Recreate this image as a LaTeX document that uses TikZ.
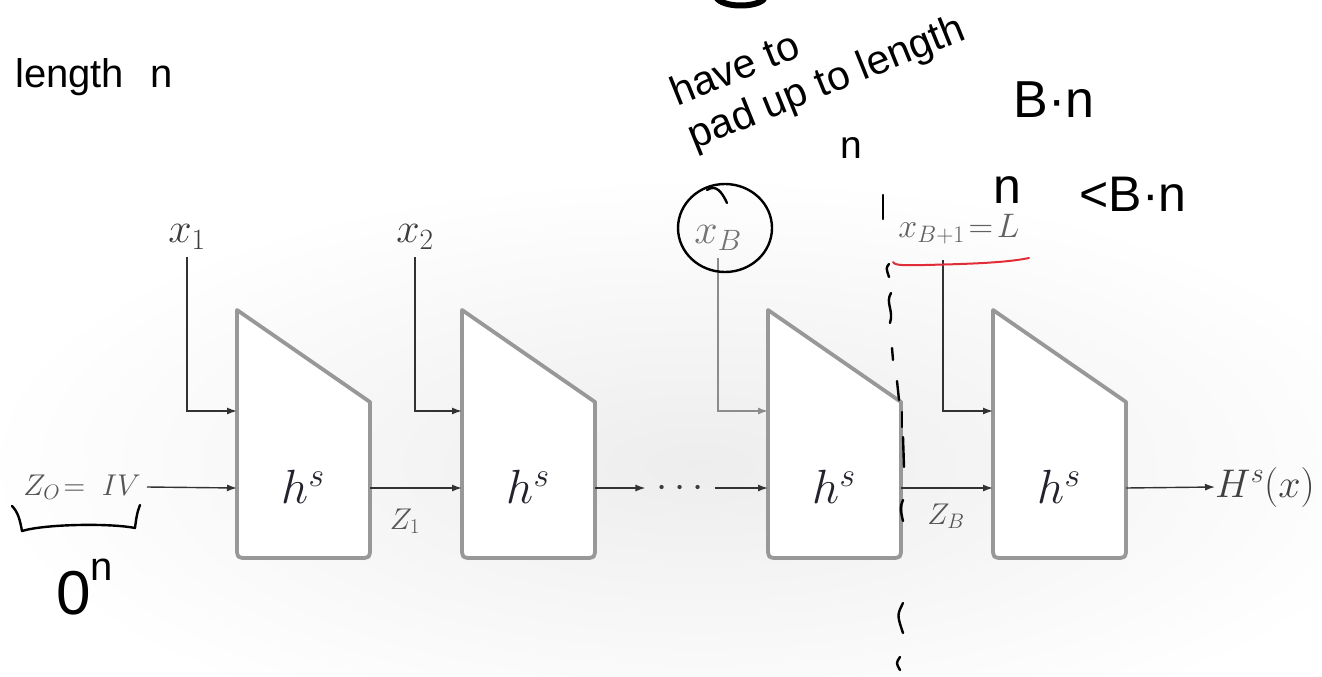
\RequirePackage{fix-cm}
\documentclass[tikz,border=0pt]{standalone}
\usepackage{fontspec}
\newfontfamily\handfont{Liberation Sans}
\usetikzlibrary{arrows.meta,calc}
\definecolor{blkgray}{RGB}{152,152,152}
\definecolor{linegray}{RGB}{50,50,50}
\definecolor{lblgray}{RGB}{60,60,60}
\definecolor{zgray}{RGB}{85,85,85}
\definecolor{hcol}{RGB}{35,35,45}
\definecolor{penred}{RGB}{225,45,55}
\begin{document}
\begin{tikzpicture}[x=1pt,y=-1pt,
  blockline/.style={draw=blkgray,line width=3.8pt,fill=white,line join=round},
  conn/.style={draw=linegray,line width=1.4pt,-{Latex[length=10pt,width=7pt]}},
  xlbl/.style={text=lblgray,inner sep=0pt,font=\fontsize{42}{42}\selectfont},
  zlbl/.style={text=zgray,inner sep=0pt,font=\fontsize{30}{30}\selectfont},
  hlbl/.style={text=hcol,inner sep=0pt,font=\fontsize{48}{48}\selectfont},
  handtxt/.style={inner sep=0pt,text=black,font=\handfont\fontsize{39}{39}\selectfont},
  pen/.style={draw=black,line width=2.4pt,line cap=round,line join=round}
]
\useasboundingbox (0,0) rectangle (1322,677);
\fill[white] (0,0) rectangle (1322,677);
\shade[inner color=black!7,outer color=white] (700,465) ellipse [x radius=720, y radius=290];

% blocks
\foreach \L/\n in {237/1,462/2,768/3,993/4}{
  \pgfmathsetmacro\R{\L+133}
  \draw[blockline] (\L,310) -- (\R,402) -- (\R,547) .. controls (\R,558) .. ({\R-11},558)
     -- ({\L+11},558) .. controls (\L,558) .. (\L,547) -- cycle;
  \node[hlbl] (h\n) at ({\L+66},487) {$h^s$};
  \coordinate (b\n-u) at (\L,411);
  \coordinate (b\n-in) at (\L,488);
  \coordinate (b\n-out) at (\R,488);
}

% top inputs
\node[xlbl] (x1) at (187,237) {$x_1$};
\node[xlbl] (x2) at (415,237) {$x_2$};
\node[xlbl,text=black!55] (xB) at (718,238) {$x_B$};
\node[xlbl,text=black!62,font=\fontsize{34}{34}\selectfont] (xL) at (959,229) {$x_{B+1}\!=\!L$};
\coordinate (xL-s) at (943,260);

\draw[conn] ([yshift=-8pt]x1.south) |- (b1-u);
\draw[conn] ([yshift=-8pt]x2.south) |- (b2-u);
\draw[conn,draw=black!45] ([yshift=-8pt]xB.south) |- (b3-u);
\draw[conn] (xL-s) |- (b4-u);

% main chain
\node[zlbl,anchor=east] (z0) at (141,487) {$Z_O\!=\;IV$};
\draw[conn] (z0.east) ++(6,0) -- (b1-in);
\draw[conn] (b1-out) -- (b2-in);
\node[zlbl] (z1) at (405,521) {$Z_1$};
\node[inner xsep=11pt,inner ysep=0pt,text=lblgray,font=\fontsize{40}{40}\selectfont,anchor=base] (dots) at (680,497) {$\cdots$};
\draw[conn] (b2-out) -- (dots.west |- b2-out);
\draw[conn] (dots.east |- b3-in) -- (b3-in);
\draw[conn] (b3-out) -- (b4-in);
\node[zlbl] (zB) at (946,516) {$Z_B$};
\node[xlbl,anchor=west,text=black!75,font=\fontsize{40}{40}\selectfont] (Hx) at (1215,487) {$H^{s}(x)$};
\draw[conn] (b4-out) -- (Hx.west);

% handwritten notes
\node[handtxt,anchor=base west,font=\handfont\fontsize{40}{40}\selectfont] (len) at (15,88) {length\hspace{26pt}n};
\node[handtxt,rotate=22,align=left,anchor=west,font=\handfont\fontsize{41}{46}\selectfont] (pad) at (682,118) {have to\\pad up to length};
\node[handtxt] (nn) at (851,148) {n};
\node[handtxt,font=\handfont\fontsize{52}{52}\selectfont] (Bn) at (1054,100) {B·n};
\node[handtxt,font=\handfont\fontsize{50}{50}\selectfont] (ltBn) at (1133,194) {<B·n};
\node[handtxt,font=\handfont\fontsize{50}{50}\selectfont] (nL) at (1007,190) {n};
\node[handtxt,font=\handfont\fontsize{62}{62}\selectfont,anchor=base west] (on) at (56,614) {0\raisebox{34pt}{\fontsize{40}{40}\selectfont n}};

% circle around x_B
\draw[pen] (725,228) ellipse [x radius=47, y radius=44];
\draw[pen] (707,190) .. controls (716,184) and (722,192) .. (727,203);

% red underline
\draw[pen,draw=penred,line width=2pt] (893,262) .. controls (895,266) and (905,265) .. (925,265)
   .. controls (965,264) and (1005,263) .. (1029,258);

% brace under Z_O = IV
\draw[pen] (12,506) .. controls (18,512) and (20,520) .. (22,531)
   .. controls (45,524) and (110,523) .. (135,528)
   .. controls (136,520) and (137,512) .. (140,505);

% hand-drawn dashed divider
\draw[pen] (883,195) -- (883,219);
\draw[pen] (889,264) .. controls (886,268) .. (889,277);
\draw[pen] (891,293) .. controls (885,303) and (894,310) .. (890,323);
\draw[pen] (892,348) -- (893,360);
\draw[pen] (897,381) -- (899,400);
\draw[pen] (902,412) -- (902,427);
\draw[pen] (903,437) -- (904,467);
\draw[pen] (903,500) .. controls (900,508) .. (903,521);
\draw[pen] (903,603) .. controls (897,615) .. (903,633);
\draw[pen] (900,657) .. controls (896,663) .. (900,670);

% cut-off stroke at top
\draw[line width=6pt,line cap=round] (716,-3) .. controls (722,8) and (756,8) .. (764,-1);
\end{tikzpicture}
\end{document}
